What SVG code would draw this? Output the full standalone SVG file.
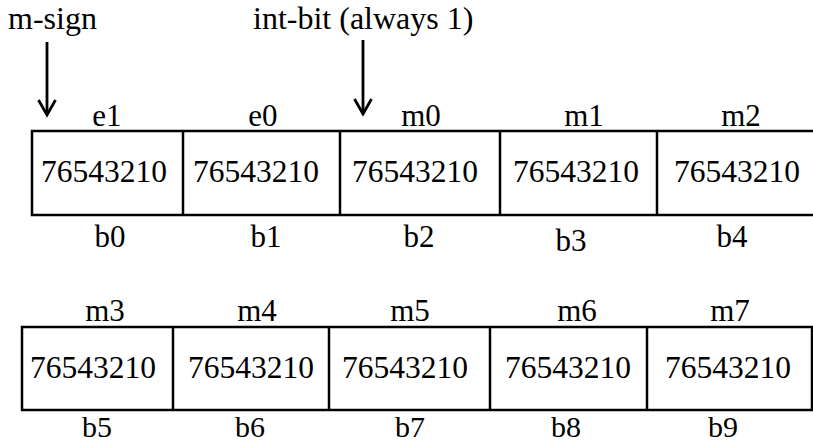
<svg xmlns="http://www.w3.org/2000/svg" width="813" height="445" viewBox="0 0 813 445">
<style>
text{font-family:"Liberation Serif","Times New Roman",serif;fill:#000;text-anchor:middle}
.lbl{font-size:31px}
.bot{font-size:30px}
.dig{font-size:31.5px}
.note{font-size:32px;text-anchor:start}
.box{fill:#fff;stroke:#000;stroke-width:2.5}
.div{stroke:#000;stroke-width:2.5}
.arr{stroke:#000;stroke-width:2.8;fill:none}
</style>
<rect width="813" height="445" fill="#fff"/>
<g id="annotations">
<text class="note" x="8" y="29">m-sign</text>
<text class="note" x="253" y="29">int-bit (always 1)</text>
</g>
<g id="connectors">
<line class="arr" x1="47" y1="42" x2="47" y2="114"/>
<polyline class="arr" points="38.5,100 47,115 55.5,100"/>
<line class="arr" x1="363" y1="40" x2="363" y2="113"/>
<polyline class="arr" points="354.5,99 363,114 371.5,99"/>
</g>
<g id="row1">
<path class="box" d="M813,131 H32 V215 H813"/>
<line class="div" x1="183" y1="131" x2="183" y2="215"/>
<line class="div" x1="340" y1="131" x2="340" y2="215"/>
<line class="div" x1="500" y1="131" x2="500" y2="215"/>
<line class="div" x1="657" y1="131" x2="657" y2="215"/>
</g>
<g id="b0"><text class="lbl" x="107" y="126">e1</text><text class="dig" x="104" y="182">76543210</text><text class="lbl" x="110" y="247">b0</text></g>
<g id="b1"><text class="lbl" x="263" y="126">e0</text><text class="dig" x="256" y="182">76543210</text><text class="lbl" x="266" y="247">b1</text></g>
<g id="b2"><text class="lbl" x="421" y="126">m0</text><text class="dig" x="415" y="182">76543210</text><text class="lbl" x="419" y="247">b2</text></g>
<g id="b3"><text class="lbl" x="584" y="126">m1</text><text class="dig" x="576" y="182">76543210</text><text class="lbl" x="571" y="251">b3</text></g>
<g id="b4"><text class="lbl" x="741" y="126">m2</text><text class="dig" x="737" y="182">76543210</text><text class="lbl" x="732" y="247">b4</text></g>
<g id="row2">
<rect class="box" x="22" y="327" width="790" height="83"/>
<line class="div" x1="173" y1="327" x2="173" y2="410"/>
<line class="div" x1="329" y1="327" x2="329" y2="410"/>
<line class="div" x1="490" y1="327" x2="490" y2="410"/>
<line class="div" x1="647" y1="327" x2="647" y2="410"/>
</g>
<g id="b5"><text class="lbl" x="105" y="321">m3</text><text class="dig" x="93" y="378">76543210</text><text class="bot" x="97" y="437">b5</text></g>
<g id="b6"><text class="lbl" x="257" y="321">m4</text><text class="dig" x="251" y="378">76543210</text><text class="bot" x="250" y="437">b6</text></g>
<g id="b7"><text class="lbl" x="410" y="321">m5</text><text class="dig" x="405" y="378">76543210</text><text class="bot" x="410" y="437">b7</text></g>
<g id="b8"><text class="lbl" x="577" y="321">m6</text><text class="dig" x="568" y="378">76543210</text><text class="bot" x="566" y="437">b8</text></g>
<g id="b9"><text class="lbl" x="730" y="321">m7</text><text class="dig" x="728" y="378">76543210</text><text class="bot" x="723" y="437">b9</text></g>
</svg>
